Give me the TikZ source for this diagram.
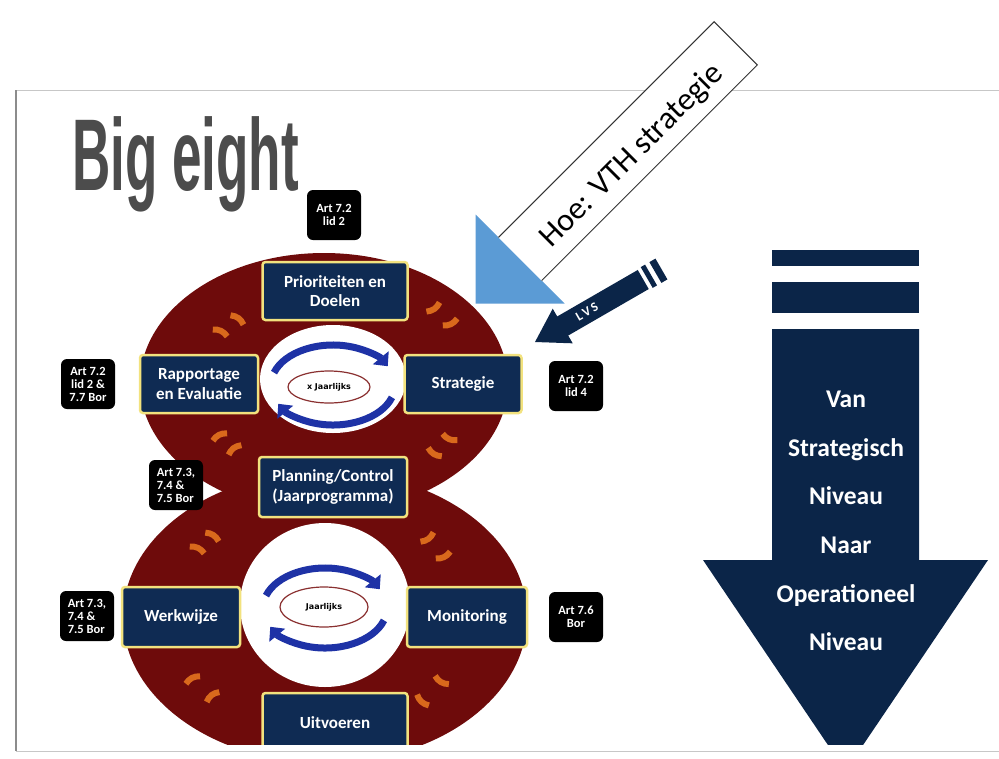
\documentclass[tikz,border=0pt]{standalone}
\usepackage{fontspec}
\setmainfont{Carlito}
\newfontfamily\arialf{Liberation Sans}
\newfontfamily\dejab{DejaVu Sans}
\usetikzlibrary{calc,arrows.meta,shapes.geometric}
\definecolor{maroon8}{HTML}{6E0B0B}
\definecolor{navyb}{HTML}{0F2B53}
\definecolor{navyA}{HTML}{0B2548}
\definecolor{ylw}{HTML}{F2E27E}
\definecolor{orng}{HTML}{D9691C}
\definecolor{bluarc}{HTML}{1E32A6}
\definecolor{ltblue}{HTML}{5B9BD5}
\definecolor{brownring}{HTML}{8A3030}
\definecolor{titlegray}{HTML}{4C4C4C}
\newcommand\otk[2]{\draw[otick] ($(#1)!-8pt!(#2)$) to[bend left=30] ($(#1)!8pt!(#2)$);}
\newcommand\bigtitle{\scalebox{0.52}[1]{\arialf\bfseries\fontsize{102}{102}\selectfont Big eight}}
\begin{document}
\begin{tikzpicture}[x=1pt,y=-1pt,
  phase/.style={rectangle, rounded corners=3pt, fill=navyb, draw=ylw, line width=2.5pt, text=white, font=\bfseries\fontsize{17}{19.5}\selectfont, align=center, inner sep=0pt},
  artlbl/.style={rectangle, rounded corners=6pt, fill=black, text=white, font=\bfseries\fontsize{12.5}{13}\selectfont, align=center, minimum width=54pt, minimum height=50pt, inner sep=1pt},
  jaar/.style={ellipse, draw=brownring, line width=1.2pt, fill=white, inner sep=0pt, font=\dejab\bfseries\fontsize{8}{8}\selectfont},
  cyc/.style={line width=7pt, draw=bluarc, -{Triangle[length=11pt,width=20pt]}},
  otick/.style={draw=orng, line width=6pt},
]
\useasboundingbox (0,0) rectangle (999,758);
\fill[white] (0,0) rectangle (999,758);
% slide frame
\draw[black!22, line width=1pt] (999,90) -- (16,90);
\draw[black!45, line width=2.5pt] (16,90) -- (16,751);
\draw[black!22, line width=1pt] (16,751) -- (999,751);
% title
\node[inner sep=0pt, text=titlegray] (title) at (185.5,164.2) {\bigtitle};
% the eight
\coordinate (c1) at (324,383);
\coordinate (c2) at (325,610);
\coordinate (uc) at (333,385);
\coordinate (lc) at (325,608);
\begin{scope}
\clip (0,0) rectangle (999,744);
\fill[maroon8] (325,617) ellipse [x radius=202, y radius=146];
\fill[maroon8] (324,383) ellipse [x radius=184, y radius=130];
\fill[white] (333,379) ellipse [x radius=73, y radius=54];
\fill[white] (325,605) ellipse [x radius=85, y radius=82];
% orange ticks
\otk{220,333}{c1} \otk{237,320}{c1}
\otk{433,307}{c1} \otk{450,322}{c1}
\otk{220,437}{c1} \otk{235,450}{c1}
\otk{435,452}{c1} \otk{450,437}{c1}
\otk{197,550}{c2} \otk{212,537}{c2}
\otk{427,537}{c2} \otk{443,555}{c2}
\otk{193,680}{c2} \otk{213,697}{c2}
\otk{423,700}{c2} \otk{442,680}{c2}
% cycle arrows
\draw[cyc] ([shift={(198:62 and 40)}]uc) arc[start angle=198, end angle=332, x radius=62, y radius=40];
\draw[cyc] ([shift={(18:62 and 40)}]uc) arc[start angle=18, end angle=152, x radius=62, y radius=40];
\draw[cyc] ([shift={(198:62 and 40)}]lc) arc[start angle=198, end angle=332, x radius=62, y radius=40];
\draw[cyc] ([shift={(18:62 and 40)}]lc) arc[start angle=18, end angle=152, x radius=62, y radius=40];
\node[jaar, minimum width=82pt, minimum height=32pt] (ja1) at (329,387) {x Jaarlijks};
\node[jaar, minimum width=88pt, minimum height=40pt] (ja2) at (324,607) {Jaarlijks};
% phases
\node[phase, minimum width=145pt, minimum height=58pt] (prio) at (335,291) {Prioriteiten en\\Doelen};
\node[phase, minimum width=118pt, minimum height=58pt] (rapp) at (199,384) {Rapportage\\en Evaluatie};
\node[phase, minimum width=117pt, minimum height=58pt] (strat) at (463,384) {Strategie};
\node[phase, minimum width=148pt, minimum height=60pt] (plan) at (333,487) {Planning/Control\\(Jaarprogramma)};
\node[phase, minimum width=118pt, minimum height=60pt] (werk) at (181,617) {Werkwijze};
\node[phase, minimum width=120pt, minimum height=60pt] (moni) at (467,617) {Monitoring};
\node[phase, minimum width=145pt, minimum height=60pt] (uitv) at (335,723) {Uitvoeren};
% right arrow body
\fill[navyA] (772,329) -- (919,329) -- (919,560) -- (988,560) -- (845.5,771) -- (703,560) -- (772,560) -- cycle;
\end{scope}
% article labels
\node[artlbl] (a1) at (334,215) {Art 7.2\\lid 2};
\node[artlbl] (a2) at (88,384) {Art 7.2\\lid 2 \&\\7.7 Bor};
\node[artlbl] (a3) at (576,386) {Art 7.2\\lid 4};
\node[artlbl, align=left] (a4) at (176,485) {Art 7.3,\\7.4 \&\\7.5 Bor};
\node[artlbl, align=left] (a5) at (87,616) {Art 7.3,\\7.4 \&\\7.5 Bor};
\node[artlbl] (a6) at (576,617) {Art 7.6\\Bor};
% right arrow bars and text
\fill[navyA] (772,250) rectangle (919,266);
\fill[navyA] (772,282) rectangle (919,313);
\node[text=white, font=\bfseries\fontsize{25.5}{48.6}\selectfont, align=center] (vantxt) at (846,521)
  {Van\\Strategisch\\Niveau\\Naar\\Operationeel\\Niveau};
% Hoe: VTH strategie arrow
\fill[ltblue] (475.5,214.5) -- (564.5,303.5) -- (475.5,303.5) -- cycle;
\fill[white] (498.4,237.4) -- (541.6,280.6) -- (757.3,64.9) -- (714.1,21.7) -- cycle;
\draw[black!80, line width=1pt] (498.4,237.4) -- (714.1,21.7) -- (757.3,64.9) -- (541.6,280.6);
\node[rotate=45, font=\fontsize{32}{32}\selectfont, inner sep=0pt] (hoe) at (632,156) {Hoe: VTH strategie};
% LVS pencil
\begin{scope}[shift={(535,342)}, rotate=30]
\fill[navyA] (0,0) -- (32,-20) -- (32,20) -- cycle;
\fill[navyA] (30,-11) rectangle (125,11);
\fill[navyA] (129,-12) rectangle (134,12);
\fill[navyA] (139,-12) rectangle (146,12);
\node[rotate=30, text=white, font=\bfseries\fontsize{13}{13}\selectfont, inner sep=0pt] (lvs) at (60,0) {L\,V\,S};
\end{scope}
\end{tikzpicture}
\end{document}
